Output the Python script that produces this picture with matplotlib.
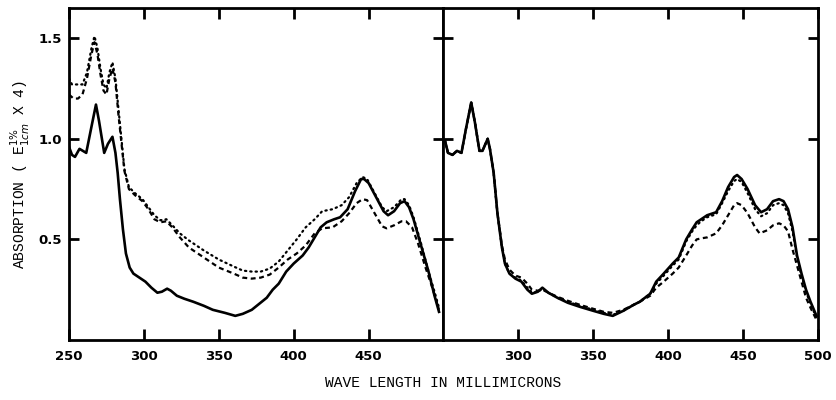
import matplotlib
matplotlib.use("Agg")
import matplotlib.pyplot as plt

# ---------------- data ----------------
# Left panel
left_solid_x = [250, 252, 254, 257, 261.5, 265, 268, 270, 273.5, 276, 279, 281, 282.5, 284, 286, 288, 290.5,
                293, 297, 301, 305, 309, 312, 315.5, 318, 322, 327, 333, 340, 346, 354, 361, 366, 372,
                377, 382, 386, 390, 395, 400, 406, 410, 414, 418, 422, 427, 431, 436, 441, 445, 447, 450,
                455, 460, 463, 467, 471, 474, 477, 480, 485, 490, 494, 497]
left_solid_y = [0.96, 0.92, 0.91, 0.95, 0.93, 1.06, 1.17, 1.09, 0.93, 0.975, 1.01, 0.93, 0.83, 0.70, 0.55, 0.43, 0.36,
                0.33, 0.31, 0.29, 0.26, 0.235, 0.24, 0.255, 0.245, 0.22, 0.205, 0.19, 0.17, 0.15, 0.135, 0.12, 0.13, 0.15,
                0.18, 0.21, 0.25, 0.28, 0.34, 0.38, 0.42, 0.46, 0.51, 0.56, 0.585, 0.60, 0.61, 0.65, 0.74, 0.80, 0.80, 0.78,
                0.71, 0.64, 0.62, 0.64, 0.68, 0.69, 0.66, 0.60, 0.47, 0.34, 0.22, 0.14]

left_dot_x = [250, 252, 256, 259, 262, 265, 267, 269, 271, 273, 275, 277, 279, 281, 283, 285, 287, 290, 294,
              299, 303, 307, 311, 315, 319, 324, 330, 340, 350, 360, 366, 372, 378, 384, 390, 396, 402, 408,
              414, 419, 426, 432, 437, 442, 446, 449, 454, 459, 462, 467, 472, 474, 477, 480, 485, 490, 494, 497]
left_dot_y = [1.30, 1.27, 1.27, 1.27, 1.33, 1.45, 1.51, 1.45, 1.35, 1.27, 1.25, 1.33, 1.38, 1.30, 1.15, 1.00, 0.85, 0.76, 0.73,
              0.70, 0.66, 0.62, 0.595, 0.60, 0.57, 0.53, 0.495, 0.445, 0.40, 0.365, 0.345, 0.34, 0.34, 0.355, 0.39, 0.445, 0.50, 0.56,
              0.60, 0.64, 0.65, 0.67, 0.71, 0.78, 0.81, 0.80, 0.73, 0.66, 0.64, 0.66, 0.70, 0.70, 0.67, 0.61, 0.48, 0.34, 0.24, 0.16]

left_dash_x = [250, 253, 256, 259, 262, 265, 267, 269, 271, 273, 275, 277, 279, 281, 283, 285, 287, 290, 294,
               299, 303, 307, 311, 315, 319, 324, 330, 340, 350, 360, 366, 372, 378, 384, 390, 396, 402, 408,
               414, 419, 426, 432, 437, 442, 446, 449, 454, 459, 462, 467, 472, 475, 479, 483, 488, 493, 497]
left_dash_y = [1.22, 1.20, 1.20, 1.22, 1.30, 1.42, 1.48, 1.42, 1.32, 1.24, 1.22, 1.30, 1.35, 1.28, 1.12, 0.98, 0.84, 0.75, 0.72,
               0.69, 0.65, 0.60, 0.585, 0.59, 0.56, 0.51, 0.46, 0.41, 0.36, 0.33, 0.31, 0.305, 0.31, 0.325, 0.36, 0.40, 0.43, 0.47,
               0.53, 0.555, 0.56, 0.59, 0.63, 0.68, 0.70, 0.695, 0.63, 0.565, 0.555, 0.57, 0.59, 0.59, 0.56, 0.48, 0.36, 0.25, 0.15]

# Right panel
right_solid_x = [251, 253, 256, 259, 262, 265, 268.5, 271, 274, 276, 279.5, 281, 283.5, 286, 289, 291, 294, 298,
                 302, 306, 309, 313, 316, 320, 326, 333, 341, 350, 357, 363, 370, 377, 381, 388, 392, 397, 403,
                 407, 412, 416, 419, 422, 426, 432, 436, 440, 444, 446, 449, 453, 458, 462, 466, 470, 474,
                 477, 480, 483, 486, 489, 492, 495, 499]
right_solid_y = [0.99, 0.93, 0.92, 0.94, 0.93, 1.05, 1.18, 1.08, 0.94, 0.94, 1.00, 0.95, 0.83, 0.63, 0.46, 0.38, 0.33, 0.305,
                 0.29, 0.25, 0.23, 0.24, 0.26, 0.235, 0.21, 0.185, 0.165, 0.145, 0.13, 0.12, 0.145, 0.175, 0.19, 0.23, 0.29, 0.33, 0.38,
                 0.41, 0.50, 0.55, 0.585, 0.60, 0.62, 0.635, 0.69, 0.76, 0.81, 0.82, 0.80, 0.75, 0.67, 0.635, 0.65, 0.69, 0.70,
                 0.69, 0.65, 0.56, 0.42, 0.33, 0.25, 0.19, 0.12]

right_dot_x = [251, 253, 256, 259, 262, 265, 268.5, 271, 274, 276, 279.5, 281, 283.5, 286, 289, 291, 294, 298,
               302, 306, 309, 313, 316, 320, 326, 333, 341, 350, 357, 363, 370, 377, 381, 388, 392, 397, 403,
               407, 412, 416, 419, 422, 426, 432, 436, 440, 444, 446, 449, 453, 458, 462, 466, 470, 474,
               477, 480, 483, 486, 489, 492, 495, 499]
right_dot_y = [0.99, 0.93, 0.92, 0.94, 0.93, 1.05, 1.18, 1.08, 0.94, 0.94, 1.00, 0.95, 0.83, 0.63, 0.46, 0.38, 0.33, 0.31,
               0.295, 0.26, 0.235, 0.24, 0.255, 0.235, 0.21, 0.19, 0.17, 0.15, 0.135, 0.125, 0.145, 0.175, 0.19, 0.23, 0.28, 0.32, 0.37,
               0.40, 0.49, 0.54, 0.57, 0.59, 0.61, 0.625, 0.68, 0.74, 0.79, 0.80, 0.785, 0.73, 0.65, 0.615, 0.63, 0.67, 0.68,
               0.67, 0.63, 0.54, 0.41, 0.32, 0.24, 0.18, 0.11]

right_dash_x = [251, 253, 256, 259, 262, 265, 268.5, 271, 274, 276, 279.5, 281, 283.5, 286, 289, 291, 294, 298,
                302, 306, 309, 313, 316, 320, 326, 333, 341, 350, 357, 363, 370, 377, 381, 388, 392, 397, 403,
                407, 412, 416, 419, 422, 426, 432, 436, 440, 444, 446, 449, 453, 458, 461, 466, 470, 474,
                477, 480, 483, 486, 489, 492, 495, 499]
right_dash_y = [0.99, 0.93, 0.92, 0.94, 0.93, 1.05, 1.18, 1.08, 0.94, 0.94, 1.00, 0.95, 0.83, 0.63, 0.47, 0.40, 0.35, 0.32,
                0.31, 0.28, 0.25, 0.245, 0.25, 0.235, 0.215, 0.195, 0.175, 0.155, 0.14, 0.135, 0.15, 0.175, 0.19, 0.22, 0.26, 0.29, 0.33,
                0.36, 0.42, 0.47, 0.50, 0.505, 0.51, 0.53, 0.57, 0.62, 0.67, 0.68, 0.67, 0.63, 0.56, 0.53, 0.545, 0.57, 0.58,
                0.57, 0.54, 0.45, 0.37, 0.29, 0.21, 0.16, 0.10]

left_xticks = [250, 300, 350, 400, 450]
right_xticks = [300, 350, 400, 450, 500]
yticks = [0.5, 1.0, 1.5]
ytick_labels = ["0.5", "1.0", "1.5"]

# ---------------- plot ----------------
fig = plt.figure(figsize=(8.37, 4.0), dpi=100)
L, R, B, T = 69 / 837, 818 / 837, 60 / 400, 392 / 400
W = (R - L) / 2
ax1 = fig.add_axes([L, B, W, T - B])
ax2 = fig.add_axes([L + W, B, W, T - B])

lw = 1.9
ax1.plot(left_solid_x, left_solid_y, color="black", lw=lw, solid_joinstyle="round")
ax1.plot(left_dash_x, left_dash_y, color="black", lw=1.6, linestyle=(0, (2.2, 1.6)))
ax1.plot(left_dot_x, left_dot_y, color="black", lw=1.6, linestyle=(0, (0.6, 1.8)), dash_capstyle="round")

ax2.plot(right_dash_x, right_dash_y, color="black", lw=1.6, linestyle=(0, (2.2, 1.6)))
ax2.plot(right_dot_x, right_dot_y, color="black", lw=1.6, linestyle=(0, (0.6, 1.8)), dash_capstyle="round")
ax2.plot(right_solid_x, right_solid_y, color="black", lw=lw, solid_joinstyle="round")

tickfont = {"family": "DejaVu Sans", "weight": "bold", "size": 9.5}
for ax, xt in ((ax1, left_xticks), (ax2, right_xticks)):
    ax.set_xlim(250, 500)
    ax.set_ylim(0, 1.65)
    ax.set_xticks(xt)
    ax.set_xticklabels([str(v) for v in xt], fontdict=tickfont)
    ax.set_yticks(yticks)
    for s in ax.spines.values():
        s.set_linewidth(2.0)
    ax.tick_params(axis="both", which="both", direction="in", length=7, width=2.0,
                   top=True, bottom=True, left=True, right=True, pad=7)
    ax.tick_params(axis="x", which="both", length=8)

ax1.set_yticklabels(ytick_labels, fontdict=tickfont)
ax2.set_yticklabels([])
ax1.tick_params(axis="y", pad=5)

fig.text(20 / 837, (400 - 174) / 400, r"ABSORPTION ( E$^{1\%}_{1cm}$ X 4)",
         rotation=90, ha="center", va="center", family="Liberation Mono", fontsize=10.5)
fig.text(443 / 837, (400 - 383) / 400, "WAVE LENGTH IN MILLIMICRONS",
         ha="center", va="center", family="Liberation Mono", fontsize=10.5)

fig.savefig("out.png", dpi=100)
